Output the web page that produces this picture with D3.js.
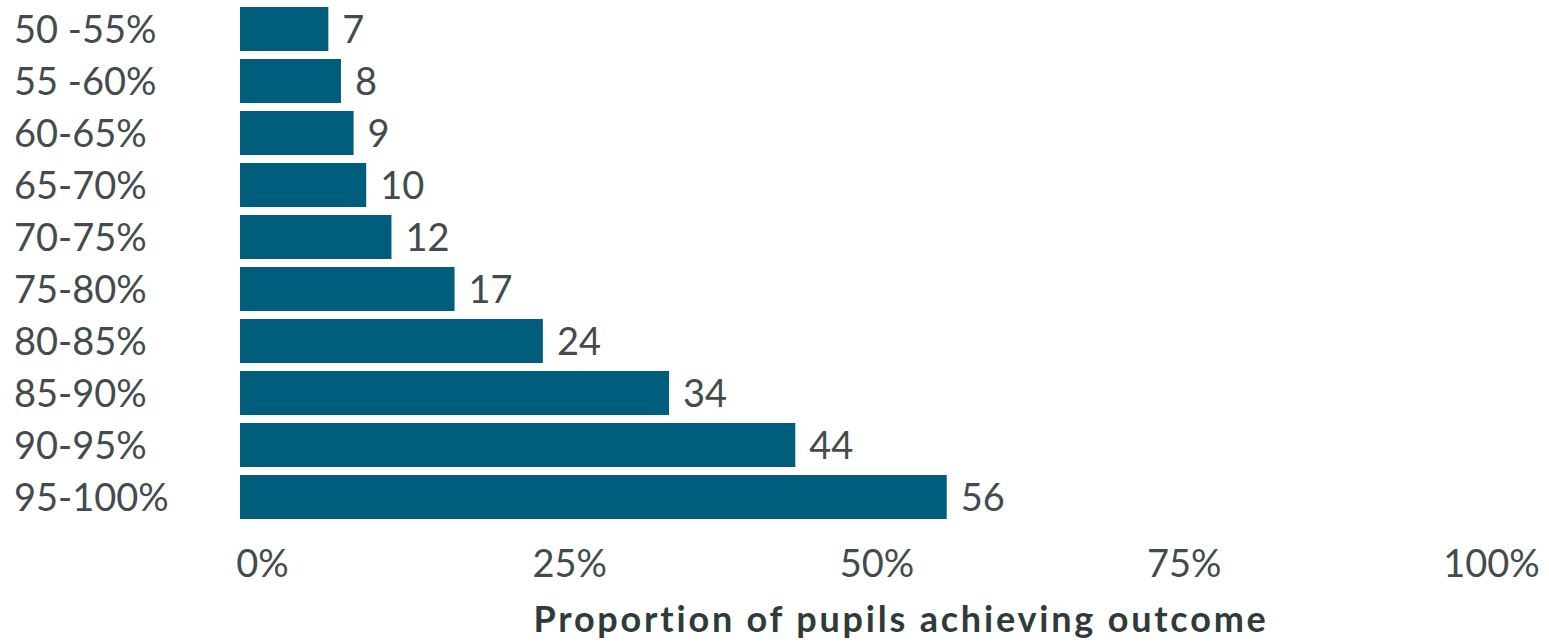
<!DOCTYPE html>
<html>
<head>
<meta charset="utf-8">
<script src="https://cdn.jsdelivr.net/npm/d3@7"></script>
<style>
  html, body { margin: 0; padding: 0; background: #ffffff; }
  svg { display: block; }
  text { font-variant-ligatures: none; }
</style>
</head>
<body>
<svg id="chart" width="1549" height="642"></svg>
<script>
const categories = ["50 -55%", "55 -60%", "60-65%", "65-70%", "70-75%", "75-80%", "80-85%", "85-90%", "90-95%", "95-100%"];
const values = [7, 8, 9, 10, 12, 17, 24, 34, 44, 56];
const tickValues = [0, 25, 50, 75, 100];
const tickLabels = ["0%", "25%", "50%", "75%", "100%"];
const axisTitle = "Proportion of pupils achieving outcome";

const data = categories.map((c, i) => ({ category: c, value: values[i] }));

const svg = d3.select("#chart");
const font = "Lato, 'Open Sans', sans-serif";
const barColor = "#005d7b";
const textColor = "#444b4d";

const x = d3.scaleLinear().domain([0, 100]).range([240, 1502]);
const xAxisScale = d3.scaleLinear().domain([0, 100]).range([262, 1491]);
const pad = 8 / 52;
const y = d3.scaleBand().domain(categories).range([3, 523]).paddingInner(pad).paddingOuter(pad / 2);

// bars
svg.append("g").selectAll("rect").data(data).join("rect")
  .attr("x", x(0))
  .attr("y", d => y(d.category))
  .attr("width", d => x(d.value) - x(0))
  .attr("height", y.bandwidth())
  .attr("fill", barColor);

// value labels
svg.append("g").selectAll("text").data(data).join("text")
  .attr("x", d => x(d.value) + 14)
  .attr("y", d => y(d.category) + y.bandwidth() / 2)
  .attr("dy", "0.36em")
  .attr("font-family", font)
  .attr("font-size", 38)
  .attr("fill", textColor)
  .text(d => d.value);

// category labels
svg.append("g").selectAll("text").data(data).join("text")
  .attr("x", 14)
  .attr("y", d => y(d.category) + y.bandwidth() / 2)
  .attr("dy", "0.36em")
  .attr("font-family", font)
  .attr("font-size", 38)
  .attr("fill", textColor)
  .text(d => d.category);

// x axis
const xAxis = d3.axisBottom(xAxisScale)
  .tickValues(tickValues)
  .tickFormat((d, i) => tickLabels[i])
  .tickSize(0)
  .tickPadding(0);

const gx = svg.append("g").attr("transform", "translate(0,550)").call(xAxis);
gx.select(".domain").remove();
gx.selectAll("text")
  .attr("font-family", font)
  .attr("font-size", 38)
  .attr("fill", textColor)
  .attr("dy", "0.71em");

// axis title
svg.append("text")
  .attr("x", 901)
  .attr("y", 632)
  .attr("text-anchor", "middle")
  .attr("font-family", font)
  .attr("font-weight", "bold")
  .attr("font-size", 36)
  .attr("letter-spacing", 2.8)
  .attr("fill", "#2f3a3b")
  .text(axisTitle);
</script>
</body>
</html>
